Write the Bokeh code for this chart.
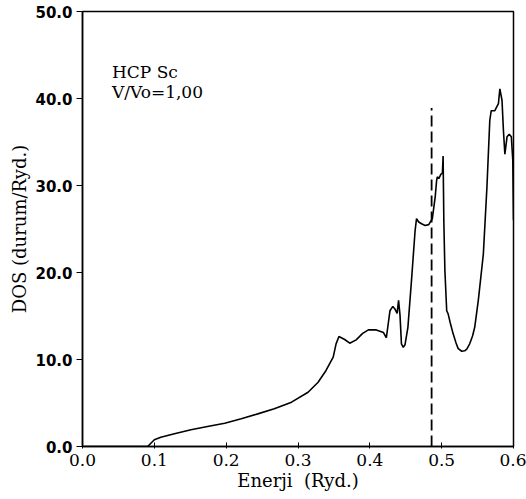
from bokeh.plotting import figure
from bokeh.models import Range1d, FixedTicker, Label, ColumnDataSource
from bokeh.embed import file_html
from bokeh.resources import INLINE

# Density of states, HCP Sc, V/Vo = 1.00
energy = [0.0, 0.0906, 0.100, 0.109, 0.128, 0.151, 0.174, 0.198, 0.221, 0.244,
          0.267, 0.291, 0.314, 0.328, 0.339, 0.349, 0.353, 0.357, 0.365, 0.372,
          0.381, 0.390, 0.398, 0.409, 0.419, 0.423, 0.428, 0.432, 0.435, 0.438,
          0.440, 0.442, 0.444, 0.4465, 0.449, 0.453, 0.458, 0.463, 0.465, 0.468,
          0.472, 0.477, 0.482, 0.487, 0.491, 0.493, 0.494, 0.496, 0.499, 0.501,
          0.502, 0.503, 0.5045, 0.507, 0.509, 0.512, 0.516, 0.520, 0.523, 0.528,
          0.532, 0.535, 0.539, 0.543, 0.546, 0.551, 0.558, 0.563, 0.567, 0.569,
          0.574, 0.579, 0.581, 0.584, 0.586, 0.588, 0.591, 0.594, 0.597, 0.599,
          0.600]
dos = [0.0, 0.0, 0.77, 1.07, 1.46, 1.92, 2.30, 2.68, 3.18, 3.75,
       4.33, 5.10, 6.24, 7.39, 8.74, 10.27, 11.8, 12.64, 12.3, 11.87,
       12.26, 13.0, 13.4, 13.4, 13.1, 12.5, 15.6, 16.1, 15.8, 15.3,
       16.8, 15.1, 11.8, 11.4, 11.7, 13.7, 19.1, 24.8, 26.2, 25.8,
       25.6, 25.4, 25.5, 26.2, 28.7, 30.6, 31.0, 30.8, 31.3, 31.4,
       33.4, 26.0, 20.2, 15.6, 15.25, 14.2, 12.95, 11.9, 11.25, 10.95,
       11.0, 11.2, 11.8, 12.7, 13.7, 16.8, 22.1, 29.8, 37.5, 38.6,
       38.6, 39.4, 41.1, 39.8, 36.3, 33.6, 35.6, 35.9, 35.6, 32.9,
       26.0]

fermi_energy = [0.486]
fermi_bottom = [0.0]
fermi_top = [38.9]

x_ticks = [0.0, 0.1, 0.2, 0.3, 0.4, 0.5, 0.6]
y_ticks = [0, 10, 20, 30, 40, 50]
x_tick_labels = {0.0: "0.0", 0.1: "0.1", 0.2: "0.2", 0.3: "0.3", 0.4: "0.4", 0.5: "0.5", 0.6: "0.6"}
y_tick_labels = {0: "0.0", 10: "10.0", 20: "20.0", 30: "30.0", 40: "40.0", 50: "50.0"}

title_lines = ["HCP Sc", "V/Vo=1,00"]
title_x = [0.041, 0.041]
title_y = [43.0, 40.7]

p = figure(width=526, height=499, output_backend="svg", toolbar_location=None,
           x_range=Range1d(0.0, 0.6), y_range=Range1d(0.0, 50.0),
           min_border_left=82, min_border_right=13, min_border_top=11, min_border_bottom=53)
p.background_fill_color = "white"
p.border_fill_color = "white"
p.grid.visible = False
p.outline_line_color = "black"
p.outline_line_width = 1.5

src = ColumnDataSource(dict(x=energy, y=dos))
p.line("x", "y", source=src, line_color="black", line_width=1.6)

p.segment(x0=fermi_energy, y0=fermi_bottom, x1=fermi_energy, y1=fermi_top,
          line_color="black", line_width=1.8, line_dash="11 5")

for t, xx, yy in zip(title_lines, title_x, title_y):
    p.add_layout(Label(x=xx, y=yy, text=t, text_font="DejaVu Serif",
                       text_font_size="17px", text_color="black",
                       text_baseline="alphabetic"))

serif = "DejaVu Serif"
xa = p.xaxis[0]
xa.ticker = FixedTicker(ticks=x_ticks)
xa.major_label_overrides = x_tick_labels
xa.major_label_text_font = serif
xa.major_label_text_font_size = "17px"
xa.major_label_text_color = "black"
xa.major_label_standoff = 5
xa.major_tick_in = 4
xa.major_tick_out = 2
xa.minor_tick_in = 0
xa.minor_tick_out = 0
xa.axis_line_width = 1.5
xa.axis_line_color = "black"
xa.major_tick_line_color = "black"
xa.axis_label = "Enerji\u00a0 (Ryd.)"
xa.axis_label_text_font = serif
xa.axis_label_text_font_size = "18px"
xa.axis_label_text_font_style = "normal"
xa.axis_label_text_color = "black"
xa.axis_label_standoff = 1

ya = p.yaxis[0]
ya.ticker = FixedTicker(ticks=y_ticks)
ya.major_label_overrides = y_tick_labels
ya.major_label_text_font = "DejaVu Sans"
ya.major_label_text_font_style = "bold"
ya.major_label_text_font_size = "15px"
ya.major_label_text_color = "black"
ya.major_label_standoff = 4
ya.major_tick_in = 0
ya.major_tick_out = 6
ya.minor_tick_in = 0
ya.minor_tick_out = 0
ya.axis_line_width = 1.5
ya.axis_line_color = "black"
ya.major_tick_line_color = "black"
ya.axis_label = "DOS (durum/Ryd.)"
ya.axis_label_text_font = serif
ya.axis_label_text_font_size = "18px"
ya.axis_label_text_font_style = "normal"
ya.axis_label_text_color = "black"
ya.axis_label_standoff = 2

open("out.html", "w").write(file_html(p, INLINE))
